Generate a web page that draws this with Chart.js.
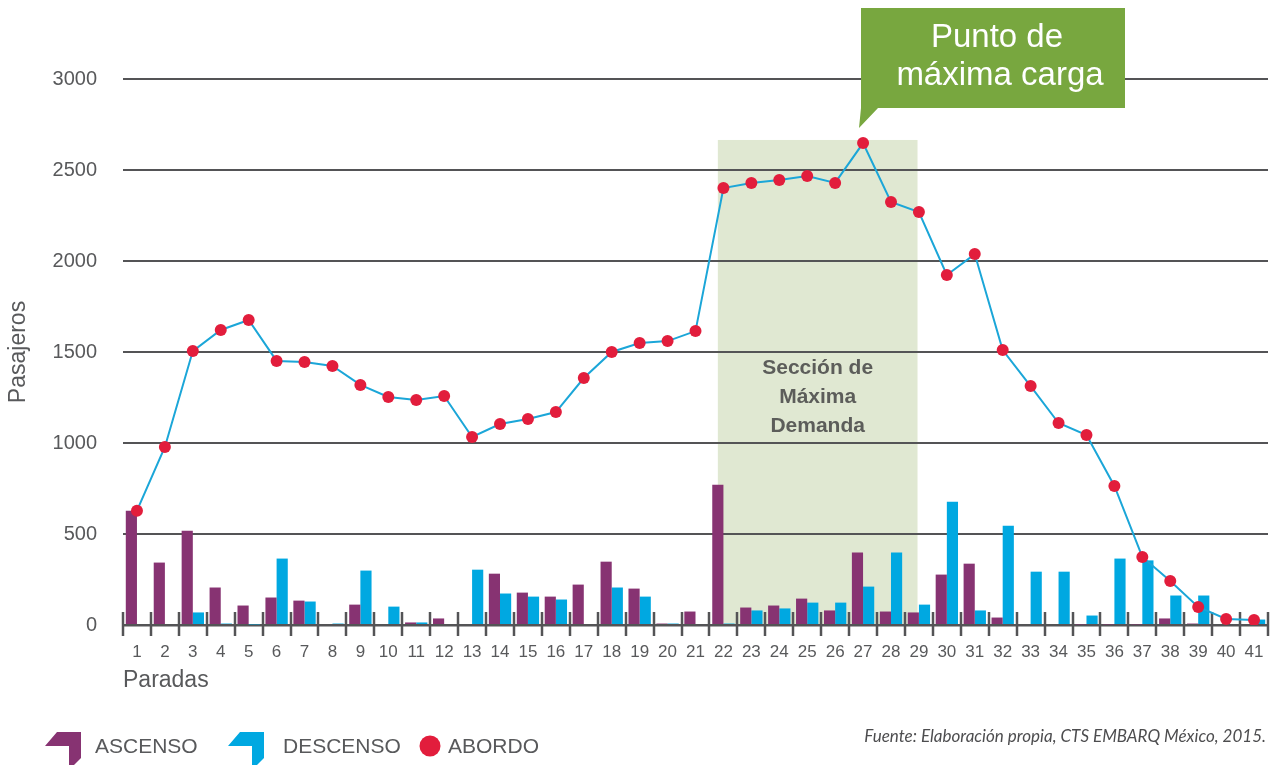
<!DOCTYPE html>
<html>
<head>
<meta charset="utf-8">
<script src="https://cdn.jsdelivr.net/npm/chart.js@4.4.1/dist/chart.umd.min.js"></script>
<style>
  html, body { margin: 0; padding: 0; background: #fff; }
  #wrap { position: relative; width: 1274px; height: 765px; overflow: hidden;
          font-family: "Liberation Sans", Arial, sans-serif; color: #58595b; }
  #chart { position: absolute; left: 0; top: 0; }
  .lbl { position: absolute; top: 734px; line-height: 24px; font-size: 21px; }
  .mark { position: absolute; top: 732px; }
  #fuente { position: absolute; right: 8px; top: 725px; font-family: Lato, "Open Sans", sans-serif;
            font-style: italic; font-size: 17px; color: #4d4d4f; }
</style>
</head>
<body>
<div id="wrap">
  <canvas id="chart" width="1274" height="765"></canvas>

  <svg class="mark" style="left:45px" width="36" height="34"><polygon points="12,0 36,0 36,26 28,34 24,34 24,14 0,14" fill="#873372"/></svg>
  <div class="lbl" style="left:95px">ASCENSO</div>
  <svg class="mark" style="left:228px" width="36" height="34"><polygon points="12,0 36,0 36,26 28,34 24,34 24,14 0,14" fill="#00a8e1"/></svg>
  <div class="lbl" style="left:283px">DESCENSO</div>
  <svg class="mark" style="left:419px;top:735px" width="22" height="22"><circle cx="11" cy="11" r="10.5" fill="#e21d3c"/></svg>
  <div class="lbl" style="left:448px">ABORDO</div>

  <div id="fuente">Fuente: Elaboración propia, CTS EMBARQ México, 2015.</div>
</div>

<script>
    // paradas 1..41
    var paradas = ['1','2','3','4','5','6','7','8','9','10','11','12','13','14','15','16','17','18','19','20',
                   '21','22','23','24','25','26','27','28','29','30','31','32','33','34','35','36','37','38','39','40','41'];

    // pasajeros que suben en cada parada
    var ascenso = [628, 343, 518, 206, 107, 151, 134, 0, 112, 0, 14, 36, 0, 282, 178, 156, 222, 348, 200, 8,
                   74, 771, 96, 107, 145, 80, 398, 74, 69, 277, 337, 41, 0, 0, 3, 3, 3, 36, 8, 0, 0];

    // pasajeros que bajan en cada parada
    var descenso = [0, 0, 69, 8, 3, 365, 129, 8, 299, 101, 14, 0, 304, 173, 156, 140, 0, 206, 156, 8,
                    0, 8, 80, 91, 123, 123, 211, 398, 112, 677, 80, 546, 293, 293, 52, 365, 355, 162, 162, 0, 30];

    // pasajeros a bordo despues de cada parada
    var abordo = [628, 978, 1505, 1621, 1676, 1451, 1445, 1423, 1319, 1253, 1236, 1258, 1033, 1104, 1132, 1170, 1357, 1500, 1549, 1560,
                  1615, 2401, 2429, 2445, 2467, 2429, 2648, 2324, 2269, 1923, 2038, 1511, 1313, 1110, 1044, 764, 374, 242, 99, 33, 27];

    var yTicks = [0, 500, 1000, 1500, 2000, 2500, 3000];

    // seccion de maxima demanda (indices de parada, valor superior)
    var seccionDesde = 20.8;
    var seccionHasta = 27.95;
    var seccionTope = 2665;

    var FONT = '"Liberation Sans", Arial, sans-serif';
    var GRIS = '#58595b';
    var LINEA = '#545456';

    var extras = {
        id: 'extras',
        beforeDraw: function (chart) {
            var ctx = chart.ctx, xs = chart.scales.x, ys = chart.scales.y;
            var x1 = xs.getPixelForValue(seccionDesde), x2 = xs.getPixelForValue(seccionHasta);
            var top = ys.getPixelForValue(seccionTope), bot = ys.getPixelForValue(0);
            ctx.save();
            ctx.fillStyle = '#e0e8d2';
            ctx.fillRect(x1, top, x2 - x1, bot - top);
            ctx.restore();
        },
        beforeDatasetsDraw: function (chart) {
            var ctx = chart.ctx, xs = chart.scales.x, area = chart.chartArea;
            var half = (xs.getPixelForValue(1) - xs.getPixelForValue(0)) / 2;
            ctx.save();
            // tick marks across the axis
            ctx.strokeStyle = LINEA;
            ctx.lineWidth = 2.5;
            for (var i = 0; i <= paradas.length; i++) {
                var x = Math.round(xs.getPixelForValue(i) - half);
                ctx.beginPath();
                ctx.moveTo(x, area.bottom - 13);
                ctx.lineTo(x, area.bottom + 11);
                ctx.stroke();
            }
            // band text
            var cx = (xs.getPixelForValue(seccionDesde) + xs.getPixelForValue(seccionHasta)) / 2;
            ctx.fillStyle = '#5c5d5a';
            ctx.font = 'bold 21px ' + FONT;
            ctx.textAlign = 'center';
            ctx.textBaseline = 'middle';
            ctx.fillText('Sección de', cx, 368);
            ctx.fillText('Máxima', cx, 397);
            ctx.fillText('Demanda', cx, 426);
            ctx.restore();
        },
        afterDraw: function (chart) {
            var ctx = chart.ctx;
            ctx.save();
            ctx.fillStyle = '#78a73f';
            ctx.beginPath();
            ctx.moveTo(861, 8);
            ctx.lineTo(1125, 8);
            ctx.lineTo(1125, 108);
            ctx.lineTo(878, 108);
            ctx.lineTo(859, 128);
            ctx.lineTo(861, 108);
            ctx.closePath();
            ctx.fill();
            ctx.fillStyle = '#ffffff';
            ctx.font = '33px ' + FONT;
            ctx.textAlign = 'center';
            ctx.textBaseline = 'alphabetic';
            ctx.fillText('Punto de', 997, 47);
            ctx.fillText('máxima carga', 1000, 85);
            ctx.restore();
        }
    };

    var ctx = document.getElementById('chart').getContext('2d');
    var myChart = new Chart(ctx, {
        data: {
            labels: paradas,
            datasets: [{
                type: 'line',
                label: 'ABORDO',
                data: abordo,
                borderColor: '#1ba6d8',
                borderWidth: 2,
                pointRadius: 6,
                pointBorderWidth: 0,
                pointBackgroundColor: '#e21d3c',
                tension: 0,
                order: 0
            }, {
                type: 'bar',
                label: 'ASCENSO',
                data: ascenso,
                backgroundColor: '#873372',
                categoryPercentage: 0.8,
                barPercentage: 1,
                order: 1
            }, {
                type: 'bar',
                label: 'DESCENSO',
                data: descenso,
                backgroundColor: '#00a8e1',
                categoryPercentage: 0.8,
                barPercentage: 1,
                order: 1
            }]
        },
        options: {
            responsive: false,
            animation: false,
            devicePixelRatio: 1,
            layout: { padding: { left: 5, right: 6, top: 79, bottom: 71 } },
            plugins: { legend: { display: false }, tooltip: { enabled: false } },
            scales: {
                x: {
                    type: 'category',
                    offset: true,
                    afterFit: function (scale) {
                        scale.height = 69;
                        scale.paddingLeft = 0;
                        scale.paddingRight = 0;
                    },
                    grid: { drawOnChartArea: false, drawTicks: false },
                    border: { display: true, color: LINEA, width: 2.5 },
                    ticks: { color: GRIS, font: { size: 17, family: FONT }, padding: 17, maxRotation: 0, autoSkip: false },
                    title: { display: true, text: 'Paradas', align: 'start', color: GRIS,
                             font: { size: 23, family: FONT }, padding: { top: 0, bottom: 0 } }
                },
                y: {
                    min: 0,
                    max: 3000,
                    afterFit: function (scale) { scale.width = 118; },
                    afterBuildTicks: function (scale) { scale.ticks = yTicks.map(function (v) { return { value: v }; }); },
                    grid: { color: LINEA, lineWidth: 2, drawTicks: false },
                    border: { display: false },
                    ticks: { color: GRIS, font: { size: 20, family: FONT }, padding: 26,
                             callback: function (v) { return String(v); } },
                    title: { display: true, text: 'Pasajeros', color: GRIS,
                             font: { size: 23, family: FONT }, padding: 0 }
                }
            }
        },
        plugins: [extras]
    });
</script>
</body>
</html>
